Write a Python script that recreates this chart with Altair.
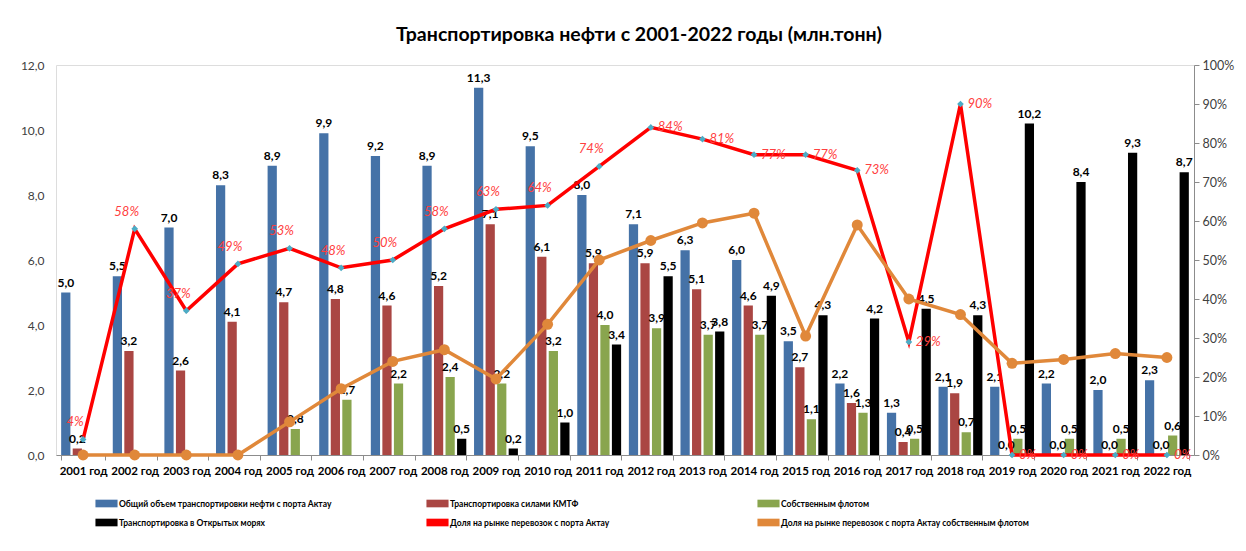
import altair as alt
import pandas as pd

FONT = "Lato"

years = [f"{y} год" for y in range(2001, 2023)]
total = [5.0, 5.5, 7.0, 8.3, 8.9, 9.9, 9.2, 8.9, 11.3, 9.5, 8.0, 7.1, 6.3, 6.0, 3.5, 2.2, 1.3, 2.1, 2.1, 2.2, 2.0, 2.3]
kmtf = [0.2, 3.2, 2.6, 4.1, 4.7, 4.8, 4.6, 5.2, 7.1, 6.1, 5.9, 5.9, 5.1, 4.6, 2.7, 1.6, 0.4, 1.9, 0.0, 0.0, 0.0, 0.0]
own_fleet = [None, None, None, None, 0.8, 1.7, 2.2, 2.4, 2.2, 3.2, 4.0, 3.9, 3.7, 3.7, 1.1, 1.3, 0.5, 0.7, 0.5, 0.5, 0.5, 0.6]
open_sea = [None, None, None, None, None, None, None, 0.5, 0.2, 1.0, 3.4, 5.5, 3.8, 4.9, 4.3, 4.2, 4.5, 4.3, 10.2, 8.4, 9.3, 8.7]
share_kmtf = [4, 58, 37, 49, 53, 48, 50, 58, 63, 64, 74, 84, 81, 77, 77, 73, 29, 90, 0, 0, 0, 0]
share_own = [0, 0, 0, 0, 8.5, 17, 24, 27, 19.5, 33.5, 50, 55, 59.5, 62, 30.5, 59, 40, 36, 23.5, 24.5, 26, 25]

s_total = "Общий объем транспортировки нефти с порта Актау"
s_kmtf = "Транспортировка силами КМТФ"
s_own = "Собственным флотом"
s_open = "Транспортировка в Открытых морях"
s_share = "Доля на рынке перевозок с порта Актау"
s_share_own = "Доля на рынке перевозок с порта Актау собственным флотом"

bar_series = [s_total, s_kmtf, s_own, s_open]
all_series = [s_total, s_kmtf, s_own, s_open, s_share, s_share_own]
colors = ["#4572A7", "#AA4643", "#89A54E", "#000000", "#FF0000", "#E0883A"]

rows = []
for name, vals in zip(bar_series, [total, kmtf, own_fleet, open_sea]):
    for y, v in zip(years, vals):
        if v is not None:
            rows.append({"year": y, "series": name, "value": v,
                         "label": f"{v:.1f}".replace(".", ",")})
bars_df = pd.DataFrame(rows)

lines_df = pd.DataFrame({
    "year": years,
    "share": share_kmtf,
    "share_own": share_own,
    "plabel": [f"{v}%" for v in share_kmtf],
})
early = years[:11]
late = years[11:]

x_enc = alt.X("year:N", sort=years,
              scale=alt.Scale(paddingInner=0.15, paddingOuter=0.1),
              axis=alt.Axis(title=None, labelFont=FONT, labelFontSize=11.5,
                            labelFontWeight="bold", labelColor="black", labelAngle=0,
                            domainColor="#8c8c8c", tickColor="#8c8c8c", tickBand="extent",
                            tickSize=5, labelPadding=5))
xo = alt.XOffset("series:N", sort=bar_series, scale=alt.Scale(domain=bar_series, paddingInner=0.2))

left_axis = alt.Axis(title=None, values=[0, 2, 4, 6, 8, 10, 12],
                     labelExpr="replace(format(datum.value, '.1f'), '.', ',')",
                     grid=False, domain=False, ticks=False, labelFont=FONT,
                     labelFontSize=12, labelColor="#404040", labelPadding=12)
y_left = alt.Y("value:Q", scale=alt.Scale(domain=[0, 12]), axis=left_axis)

bars = alt.Chart(bars_df).mark_bar().encode(
    x=x_enc, xOffset=xo, y=y_left,
    color=alt.Color("series:N", scale=alt.Scale(domain=all_series, range=colors),
                    legend=alt.Legend(orient="none", legendX=42, legendY=430, columns=3,
                                      direction="horizontal", title=None,
                                      symbolType="M-1.3,-0.45H1.3V0.45H-1.3Z", symbolSize=289,
                                      symbolStrokeWidth=0,
                                      labelFont=FONT, labelFontSize=8.5, labelFontWeight="bold",
                                      labelColor="black", labelLimit=400, gridAlign="all",
                                      columnPadding=59, rowPadding=6, labelOffset=4)),
)
bar_labels = alt.Chart(bars_df).mark_text(
    font=FONT, fontSize=12, fontWeight="bold", color="black", baseline="bottom", dy=-3
).encode(x=x_enc, xOffset=xo, y=y_left, text="label:N")

left = alt.layer(bars, bar_labels)

right_axis = alt.Axis(title=None, orient="right", values=list(range(0, 101, 10)),
                      labelExpr="datum.value + '%'", grid=False,
                      domainColor="#8c8c8c", tickColor="#8c8c8c", tickSize=5,
                      labelFont=FONT, labelFontSize=12.5, labelColor="#404040",
                      labelPadding=3)
y_right = alt.Y("share:Q", scale=alt.Scale(domain=[0, 100]), axis=right_axis)
y_right_own = alt.Y("share_own:Q", scale=alt.Scale(domain=[0, 100]), axis=right_axis)

red_line = alt.Chart(lines_df).mark_line(
    color="#FF0000", strokeWidth=3.5,
    point=alt.OverlayMarkDef(shape="diamond", filled=True, color="#4BACC6", size=45)
).encode(x=x_enc, y=y_right)

red_labels_early = alt.Chart(lines_df).transform_filter(
    alt.FieldOneOfPredicate(field="year", oneOf=early)
).mark_text(font=FONT, fontSize=13, fontStyle="italic", color="#FF4040",
            dx=-8, dy=-17).encode(x=x_enc, y=y_right, text="plabel:N")
red_labels_late = alt.Chart(lines_df).transform_filter(
    alt.FieldOneOfPredicate(field="year", oneOf=late)
).mark_text(font=FONT, fontSize=13, fontStyle="italic", color="#FF4040",
            dx=7, align="left", baseline="middle").encode(x=x_enc, y=y_right, text="plabel:N")

orange_line = alt.Chart(lines_df).mark_line(
    color="#E0883A", strokeWidth=3.5,
    point=alt.OverlayMarkDef(filled=True, color="#E0883A", size=120)
).encode(x=x_enc, y=y_right_own)

right = alt.layer(red_line, orange_line, red_labels_early, red_labels_late)

chart = alt.layer(left, right).resolve_scale(y="independent").properties(
    width=1138, height=390,
    title=alt.TitleParams("Транспортировка нефти с 2001-2022 годы (млн.тонн)",
                          font=FONT, fontSize=19.5, fontWeight="bold", color="black",
                          anchor="middle", offset=14, dx=14),
    autosize=alt.AutoSizeParams(type="none"),
    padding={"left": 48, "top": 57, "right": 42, "bottom": 80},
).configure_view(stroke=None).configure(background="white")

chart.save("out.html", embed_options={"renderer": "svg", "actions": False})
